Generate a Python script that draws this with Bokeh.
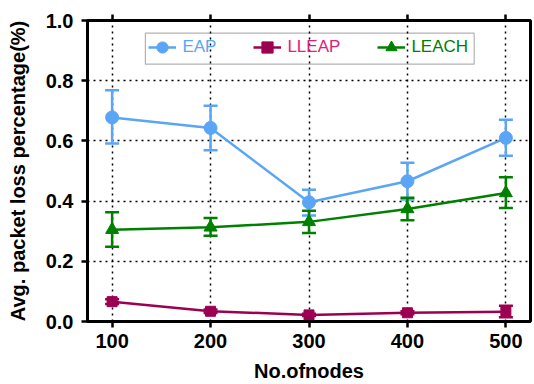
from bokeh.plotting import figure
from bokeh.models import (LinearAxis, FixedTicker, Whisker, ColumnDataSource, Legend,
                          LegendItem, BoxAnnotation, Range1d, NumeralTickFormatter, TeeHead)
from bokeh.embed import file_html
from bokeh.resources import INLINE

nodes = [100, 200, 300, 400, 500]
eap = [0.678, 0.643, 0.396, 0.466, 0.610]
eap_upper = [0.768, 0.717, 0.438, 0.527, 0.670]
eap_lower = [0.591, 0.569, 0.352, 0.405, 0.551]
lleap = [0.066, 0.034, 0.022, 0.029, 0.032]
lleap_upper = [0.074, 0.040, 0.026, 0.034, 0.052]
lleap_lower = [0.058, 0.028, 0.018, 0.024, 0.014]
leach = [0.305, 0.313, 0.331, 0.374, 0.427]
leach_upper = [0.363, 0.344, 0.368, 0.411, 0.479]
leach_lower = [0.248, 0.285, 0.294, 0.336, 0.377]
y_ticks = [0.0, 0.2, 0.4, 0.6, 0.8, 1.0]
series_names = ["EAP", "LLEAP", "LEACH"]

C_EAP = "#5AA5F5"
C_LLEAP = "#9C0050"
C_LLEAP_TXT = "#E0207A"
C_LEACH = "#008000"
FONT = "Liberation Sans"

p = figure(width=534, height=384, output_backend="svg", toolbar_location=None,
           x_range=Range1d(75, 525), y_range=Range1d(0, 1.0),
           min_border_left=87, min_border_right=4, min_border_top=20, min_border_bottom=62)
p.outline_line_color = "black"
p.outline_line_width = 3
p.background_fill_color = "white"
p.border_fill_color = "white"

# axes
for ax in [p.xaxis[0], p.yaxis[0]]:
    ax.axis_line_width = 3
    ax.axis_line_color = "black"
    ax.major_tick_line_width = 2.5
    ax.major_tick_out = 6
    ax.major_tick_in = 0
    ax.minor_tick_line_color = None
    ax.major_label_text_font = FONT
    ax.major_label_text_font_style = "bold"
    ax.major_label_text_font_size = "20px"
    ax.major_label_text_color = "black"
    ax.axis_label_text_font = FONT
    ax.axis_label_text_font_style = "bold"
    ax.axis_label_text_font_size = "20px"
    ax.axis_label_text_color = "black"

p.xaxis.ticker = FixedTicker(ticks=nodes)
p.yaxis.ticker = FixedTicker(ticks=y_ticks)
p.yaxis.formatter = NumeralTickFormatter(format="0.0")
p.xaxis.axis_label = "No.ofnodes"
p.yaxis.axis_label = "Avg. packet loss percentage(%)"
p.xaxis.major_label_standoff = 6
p.yaxis.major_label_standoff = 8
p.xaxis.axis_label_standoff = 9
p.yaxis.axis_label_standoff = 14

top_ax = LinearAxis(ticker=FixedTicker(ticks=nodes), axis_line_width=3, axis_line_color="black",
                    major_tick_line_width=2.5, major_tick_out=6, major_tick_in=0,
                    minor_tick_line_color=None, major_label_text_color=None,
                    major_label_text_font_size="1px", major_label_standoff=0)
p.add_layout(top_ax, "above")

# grid
p.xgrid.ticker = FixedTicker(ticks=nodes)
p.ygrid.ticker = FixedTicker(ticks=y_ticks)
for g in [p.xgrid[0], p.ygrid[0]]:
    g.grid_line_color = "black"
    g.grid_line_dash = "2 4"
    g.grid_line_width = 1.5

# error bars
def add_err(lower, upper, color):
    src = ColumnDataSource(dict(x=nodes, lo=lower, up=upper))
    w = Whisker(base="x", lower="lo", upper="up", source=src,
                line_color=color, line_width=2.5,
                upper_head=TeeHead(size=14, line_color=color, line_width=2.5),
                lower_head=TeeHead(size=14, line_color=color, line_width=2.5))
    p.add_layout(w)

add_err(eap_lower, eap_upper, C_EAP)
add_err(leach_lower, leach_upper, C_LEACH)
add_err(lleap_lower, lleap_upper, C_LLEAP)

r1l = p.line(nodes, eap, line_color=C_EAP, line_width=2.5)
r1m = p.scatter(nodes, eap, marker="circle", size=13, color=C_EAP)
r2l = p.line(nodes, lleap, line_color=C_LLEAP, line_width=2.5)
r2m = p.scatter(nodes, lleap, marker="square", size=10, color=C_LLEAP)
r3l = p.line(nodes, leach, line_color=C_LEACH, line_width=2.5)
r3m = p.scatter(nodes, leach, marker="triangle", size=13, color=C_LEACH)

# legend box
box = BoxAnnotation(left=133.8, right=467.8, bottom=0.855, top=0.958,
                    fill_alpha=0, line_color="black", line_width=1.2, level="overlay")
p.add_layout(box)

def add_legend(name, rends, txt_color, x):
    lg = Legend(items=[LegendItem(label=name, renderers=rends)], location=(x, 260.5),
                orientation="horizontal", padding=0, margin=0, spacing=0,
                border_line_alpha=0, background_fill_alpha=0,
                glyph_width=28, glyph_height=28, label_standoff=6,
                label_text_font=FONT, label_text_font_size="17px",
                label_text_color=txt_color)
    p.add_layout(lg, "center")

add_legend(series_names[0], [r1l, r1m], C_EAP, 61.4)
add_legend(series_names[1], [r2l, r2m], C_LLEAP_TXT, 166.4)
add_legend(series_names[2], [r3l, r3m], C_LEACH, 290.4)

open("out.html", "w").write(file_html(p, INLINE))
